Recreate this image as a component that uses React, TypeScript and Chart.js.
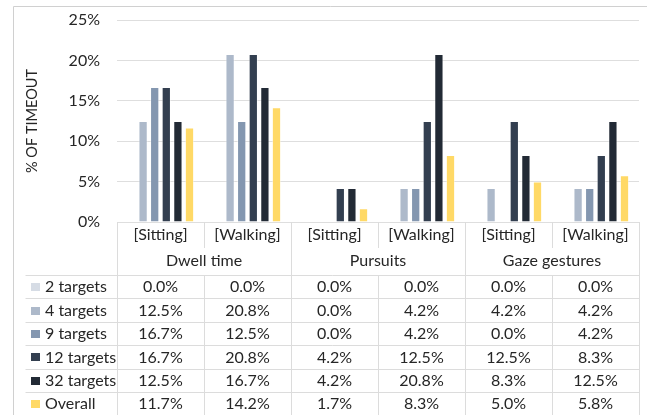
import React, { useEffect, useRef } from "react";
import { Chart, registerables } from "chart.js";

Chart.register(...registerables);

const categories = ["[Sitting]", "[Walking]", "[Sitting]", "[Walking]", "[Sitting]", "[Walking]"];
const groups = ["Dwell time", "Pursuits", "Gaze gestures"];
const seriesNames = ["2 targets", "4 targets", "9 targets", "12 targets", "32 targets", "Overall"];
const seriesColors = ["#d6dce5", "#adb9ca", "#8497b0", "#333f50", "#222a35", "#ffd966"];

const targets2 = [0.0, 0.0, 0.0, 0.0, 0.0, 0.0];
const targets4 = [12.5, 20.8, 0.0, 4.2, 4.2, 4.2];
const targets9 = [16.7, 12.5, 0.0, 4.2, 0.0, 4.2];
const targets12 = [16.7, 20.8, 4.2, 12.5, 12.5, 8.3];
const targets32 = [12.5, 16.7, 4.2, 20.8, 8.3, 12.5];
const overall = [11.7, 14.2, 1.7, 8.3, 5.0, 5.8];

const seriesValues = [targets2, targets4, targets9, targets12, targets32, overall];
const yTicks = [0, 5, 10, 15, 20, 25];

const FONT = "Lato";
const FONT_SIZE = 16;
const TEXT = "#262626";
const GRID = "#dedede";
const TABLE_LINE = "#dcdcdc";

const tablePlugin = {
  id: "dataTable",
  beforeDraw(chart: any) {
    const ctx = chart.ctx;
    ctx.save();
    ctx.strokeStyle = "#d0d0d0";
    ctx.lineWidth = 1;
    ctx.beginPath();
    ctx.moveTo(13.5, chart.height + 2);
    ctx.lineTo(13.5, 6.5);
    ctx.lineTo(chart.width + 2, 6.5);
    ctx.stroke();
    ctx.restore();
  },
  afterDraw(chart: any) {
    const ctx = chart.ctx;
    const xs = chart.scales.x;
    const { left, right, bottom } = chart.chartArea;
    const n = categories.length;
    const w = (right - left) / n;
    const row0Bottom = bottom + 26;
    const row1Bottom = bottom + 53;
    const rowH = 23.4;
    const tableLeft = 25.5;
    const end = chart.height + 2;

    ctx.save();
    ctx.strokeStyle = TABLE_LINE;
    ctx.lineWidth = 1;
    ctx.beginPath();
    for (let k = 0; k < seriesNames.length; k++) {
      const y = Math.round(row1Bottom + k * rowH) + 0.5;
      ctx.moveTo(tableLeft, y);
      ctx.lineTo(right, y);
    }
    for (let i = 0; i <= n; i++) {
      const x = Math.round(left + i * w) + 0.5;
      if (i % 2 === 0) {
        ctx.moveTo(x, bottom);
        ctx.lineTo(x, end);
      } else {
        ctx.moveTo(x, bottom);
        ctx.lineTo(x, row0Bottom);
        ctx.moveTo(x, row1Bottom);
        ctx.lineTo(x, end);
      }
    }
    ctx.stroke();

    ctx.fillStyle = TEXT;
    ctx.font = `${FONT_SIZE}px ${FONT}`;
    ctx.textBaseline = "middle";
    ctx.textAlign = "center";
    categories.forEach((c, i) => {
      ctx.fillText(c, xs.getPixelForValue(i), bottom + 12.5);
    });
    groups.forEach((g, gi) => {
      const cx = left + (gi * 2 + 1) * w;
      ctx.fillText(g, cx, bottom + 39);
    });
    seriesNames.forEach((name, k) => {
      const top = row1Bottom + k * rowH;
      const cy = top + rowH / 2 + 0.5;
      ctx.fillStyle = seriesColors[k];
      ctx.fillRect(31, Math.round(cy - 4), 9, 8);
      ctx.fillStyle = TEXT;
      ctx.textAlign = "left";
      ctx.fillText(name, 45, cy);
      ctx.textAlign = "center";
      seriesValues[k].forEach((v, i) => {
        ctx.fillText(`${v.toFixed(1)}%`, xs.getPixelForValue(i), cy);
      });
    });
    ctx.restore();
  },
};

export default function App() {
  const ref = useRef<HTMLCanvasElement | null>(null);
  useEffect(() => {
    document.body.style.margin = "0";
    const canvas = ref.current;
    if (!canvas) return;
    const chart = new Chart(canvas, {
      type: "bar",
      data: {
        labels: categories,
        datasets: seriesNames.map((name, k) => ({
          label: name,
          data: seriesValues[k],
          backgroundColor: seriesColors[k],
          borderColor: "rgba(255,255,255,0.45)",
          borderWidth: 1,
          categoryPercentage: 0.8,
          barPercentage: 0.8,
        })),
      },
      options: {
        responsive: false,
        animation: false,
        devicePixelRatio: 1,
        layout: { padding: { top: 20, right: 8, bottom: 193, left: 0 } },
        plugins: {
          legend: { display: false },
          tooltip: { enabled: false },
        },
        scales: {
          x: {
            display: false,
            offset: true,
            grid: { display: false },
          },
          y: {
            min: 0,
            max: 25,
            afterFit: (scale: any) => {
              scale.width = 117;
              scale.paddingTop = 0;
              scale.paddingBottom = 0;
            },
            afterBuildTicks: (scale: any) => {
              scale.ticks = yTicks.map((v) => ({ value: v }));
            },
            border: { display: false },
            grid: { color: GRID, drawTicks: false, lineWidth: 1 },
            ticks: {
              padding: 17,
              color: TEXT,
              font: { family: FONT, size: FONT_SIZE },
              callback: (v: any) => `${v}%`,
            },
            title: {
              display: true,
              text: "% OF TIMEOUT",
              color: TEXT,
              font: { family: FONT, size: 14.5 },
              padding: { top: 24, bottom: 0 },
            },
          },
        },
      },
      plugins: [tablePlugin],
    });
    return () => chart.destroy();
  }, []);
  return <canvas ref={ref} width={647} height={415} style={{ display: "block" }} />;
}
